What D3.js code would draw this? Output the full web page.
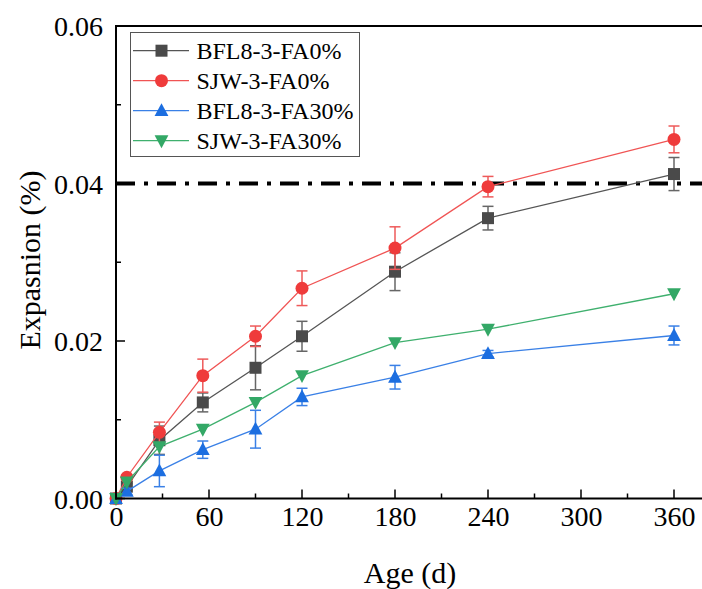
<!DOCTYPE html>
<html><head><meta charset="utf-8">
<script src="https://cdn.jsdelivr.net/npm/d3@7"></script>
</head><body style="margin:0">
<script>
const days = [0, 7, 28, 56, 90, 120, 180, 240, 360];
const seriesNames = ["BFL8-3-FA0%", "SJW-3-FA0%", "BFL8-3-FA30%", "SJW-3-FA30%"];
const bfl0 = [0, 0.0015, 0.0074, 0.0122, 0.0166, 0.0206, 0.0288, 0.0356, 0.0412];
const bfl0Err = [0, 0.0004, 0.0018, 0.0012, 0.0028, 0.0019, 0.0024, 0.0015, 0.0021];
const sjw0 = [0, 0.0027, 0.0084, 0.0156, 0.0206, 0.0267, 0.0318, 0.0396, 0.0456];
const sjw0Err = [0, 0.0003, 0.0013, 0.0021, 0.0013, 0.0022, 0.0027, 0.0013, 0.0017];
const bfl30 = [0, 0.0009, 0.0035, 0.0062, 0.0088, 0.0129, 0.0154, 0.0184, 0.0207];
const bfl30Err = [0, 0.0004, 0.0020, 0.0011, 0.0024, 0.0011, 0.0015, 0.0004, 0.0012];
const sjw30 = [0, 0.0021, 0.0066, 0.0088, 0.0122, 0.0156, 0.0198, 0.0215, 0.0260];
const sjw30Err = [0, 0, 0, 0, 0, 0, 0, 0, 0];
const xTicks = [0, 60, 120, 180, 240, 300, 360];
const yTicks = [0, 0.02, 0.04, 0.06];
const limitValue = 0.04;

const W = 702, H = 589;
const FONT = '"Liberation Serif", "Times New Roman", Tinos, serif';
const svg = d3.select("body").append("svg").attr("width", W).attr("height", H)
  .style("display", "block").style("font-family", FONT).attr("font-family", FONT);
const x = d3.scaleLinear().domain([0, 380]).range([116, 705]);
const y = d3.scaleLinear().domain([0, 0.06]).range([498.5, 26]);

function txt(sel, size) {
  return sel.attr("font-family", FONT).style("font-family", FONT).attr("font-size", size).style("font-size", size + "px").attr("fill", "#000");
}

const series = [
  {name: seriesNames[0], vals: bfl0, err: bfl0Err, color: "#4a4a4a", line: "#555555", ecol: "#666666", shape: "square"},
  {name: seriesNames[1], vals: sjw0, err: sjw0Err, color: "#ef3b3b", line: "#f05454", ecol: "#ee5a5a", shape: "circle"},
  {name: seriesNames[2], vals: bfl30, err: bfl30Err, color: "#1c6ee0", line: "#3a80e6", ecol: "#3a80e6", shape: "tri"},
  {name: seriesNames[3], vals: sjw30, err: sjw30Err, color: "#33a866", line: "#3fb06e", ecol: "#3fb06e", shape: "dtri"}
];

// limit line
svg.append("line").attr("x1", x(0)).attr("x2", W).attr("y1", y(limitValue)).attr("y2", y(limitValue))
  .attr("stroke", "#000").attr("stroke-width", 4).attr("stroke-dasharray", "19,9,4,9");

function drawMarker(g, shape, cx, cy, color, s) {
  if (shape === "square") {
    g.append("rect").attr("x", cx - s/2).attr("y", cy - s/2).attr("width", s).attr("height", s).attr("fill", color);
  } else if (shape === "circle") {
    g.append("circle").attr("cx", cx).attr("cy", cy).attr("r", s/2 + 0.5).attr("fill", color);
  } else if (shape === "tri") {
    const h = s * 1.0, w = s * 1.15;
    g.append("path").attr("d", `M${cx},${cy - h*0.62}L${cx + w/2},${cy + h*0.45}L${cx - w/2},${cy + h*0.45}Z`).attr("fill", color);
  } else {
    const h = s * 1.0, w = s * 1.15;
    g.append("path").attr("d", `M${cx},${cy + h*0.62}L${cx + w/2},${cy - h*0.45}L${cx - w/2},${cy - h*0.45}Z`).attr("fill", color);
  }
}

const lineGen = d3.line().x((d, i) => x(days[i])).y(d => y(d));
series.forEach(s => {
  const g = svg.append("g");
  g.append("path").datum(s.vals).attr("d", lineGen).attr("fill", "none").attr("stroke", s.line).attr("stroke-width", 1.3);
  s.vals.forEach((v, i) => {
    const e = s.err[i];
    if (e > 0) {
      const cx = x(days[i]);
      g.append("line").attr("x1", cx).attr("x2", cx).attr("y1", y(v - e)).attr("y2", y(v + e)).attr("stroke", s.ecol).attr("stroke-width", 1.5);
      [v - e, v + e].forEach(t => g.append("line").attr("x1", cx - 5.5).attr("x2", cx + 5.5).attr("y1", y(t)).attr("y2", y(t)).attr("stroke", s.ecol).attr("stroke-width", 1.5));
    }
  });
  s.vals.forEach((v, i) => drawMarker(g, s.shape, x(days[i]), y(v), s.color, 12));
});

// axes
const xAxis = d3.axisBottom(x).tickValues(xTicks).tickSize(0).tickFormat(d3.format("d"));
const gx = svg.append("g").attr("transform", `translate(0,${y(0)})`).call(xAxis);
gx.select(".domain").remove();
gx.attr("font-family", FONT).attr("font-size", 28);
txt(gx.selectAll("text"), 28).attr("dy", null).attr("y", 27);
svg.append("g").selectAll("line").data(d3.range(0, 381, 30)).join("line")
  .attr("x1", d => x(d)).attr("x2", d => x(d)).attr("y1", y(0)).attr("y2", d => y(0) - (d % 60 === 0 ? 9 : 5))
  .attr("stroke", "#000").attr("stroke-width", 1.5);

const yAxis = d3.axisLeft(y).tickValues(yTicks).tickSize(0).tickFormat(d3.format(".2f"));
const gy = svg.append("g").attr("transform", `translate(${x(0)},0)`).call(yAxis);
gy.select(".domain").remove();
gy.attr("font-family", FONT).attr("font-size", 28);
txt(gy.selectAll("text"), 28).attr("x", -13).attr("dy", "0.34em");
svg.append("g").selectAll("line").data(d3.range(0, 7)).join("line")
  .attr("x1", x(0)).attr("x2", d => x(0) + (d % 2 === 0 ? 9 : 5)).attr("y1", d => y(d * 0.01)).attr("y2", d => y(d * 0.01))
  .attr("stroke", "#000").attr("stroke-width", 1.5);

// frame lines
svg.append("line").attr("x1", x(0)).attr("x2", x(0)).attr("y1", y(0.06)).attr("y2", y(0) + 1).attr("stroke", "#000").attr("stroke-width", 2);
svg.append("line").attr("x1", x(0) - 1).attr("x2", W).attr("y1", y(0)).attr("y2", y(0)).attr("stroke", "#000").attr("stroke-width", 2);
svg.append("line").attr("x1", x(0) - 1).attr("x2", W).attr("y1", y(0.06)).attr("y2", y(0.06)).attr("stroke", "#000").attr("stroke-width", 2);

// titles
txt(svg.append("text").attr("x", 410).attr("y", 583).attr("text-anchor", "middle"), 30).text("Age (d)");
txt(svg.append("text").attr("transform", "translate(40,260) rotate(-90)").attr("text-anchor", "middle"), 30).text("Expasnion (%)");

// legend
const lg = svg.append("g");
lg.append("rect").attr("x", 130.5).attr("y", 32.5).attr("width", 229).attr("height", 124).attr("fill", "#fff").attr("stroke", "#555").attr("stroke-width", 1);
series.forEach((s, i) => {
  const cy = 50.7 + i * 30;
  lg.append("line").attr("x1", 133).attr("x2", 189).attr("y1", cy).attr("y2", cy).attr("stroke", s.line).attr("stroke-width", 1.3);
  drawMarker(lg, s.shape, 161.5, cy, s.color, 12);
  txt(lg.append("text").attr("x", 196.5).attr("y", cy + 8.5), 24).text(s.name);
});
</script>
</body></html>
